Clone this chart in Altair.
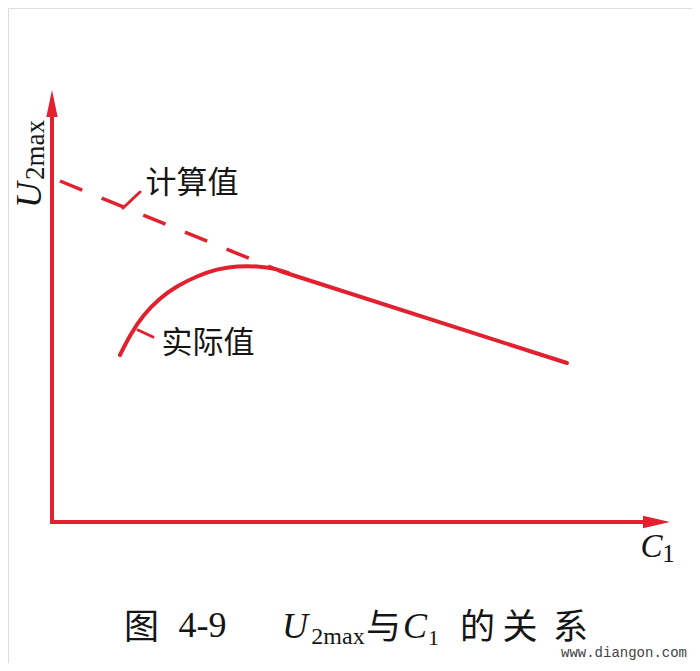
import altair as alt
import pandas as pd

RED = "#e2202e"
INK = "#151515"

# ---- data (chart units: x ~ C1, y ~ U2max, origin at axis corner) ----
# calculated value, dashed part
calc_x = [8, 228]
calc_y = [341, 251]
# calculated == actual, solid straight part
common_x = [228, 515]
common_y = [251, 159]
# actual value curve
actual_x = [68, 78, 91, 108, 125, 145, 165, 185, 205, 225, 236]
actual_y = [167, 187, 207, 224, 236, 246, 253, 256, 256, 253, 249]

# axes (origin, arrow bases)
axis_x = [0, 0, 591]
axis_y = [405, 0, 0]

W, H = 684, 655
xs = alt.Scale(domain=[-44, 640], nice=False, zero=False)
ys = alt.Scale(domain=[-141, 514], nice=False, zero=False)


def X(f="x"):
    return alt.X(f"{f}:Q", scale=xs, axis=None)


def Y(f="y"):
    return alt.Y(f"{f}:Q", scale=ys, axis=None)


layers = []

# axes
axes_df = pd.DataFrame({"x": axis_x, "y": axis_y, "o": [0, 1, 2]})
layers.append(
    alt.Chart(axes_df).mark_line(color=RED, strokeWidth=4, strokeJoin="miter", strokeCap="butt")
    .encode(x=X(), y=Y(), order="o:Q")
)
# arrow heads
layers.append(
    alt.Chart(pd.DataFrame({"x": [0], "y": [418.5]}))
    .mark_point(shape="M0,-1L0.42,1L-0.42,1Z", filled=True, opacity=1, size=729, color=RED, strokeWidth=0)
    .encode(x=X(), y=Y())
)
layers.append(
    alt.Chart(pd.DataFrame({"x": [604.5], "y": [0]}))
    .mark_point(shape="M1,0L-1,-0.47L-1,0.47Z", filled=True, opacity=1, size=729, color=RED, strokeWidth=0)
    .encode(x=X(), y=Y())
)

# dashed calculated line
layers.append(
    alt.Chart(pd.DataFrame({"x": calc_x, "y": calc_y}))
    .mark_line(color=RED, strokeWidth=3.5, strokeDash=[24, 21], strokeCap="butt")
    .encode(x=X(), y=Y())
)
# solid common line
layers.append(
    alt.Chart(pd.DataFrame({"x": common_x, "y": common_y}))
    .mark_line(color=RED, strokeWidth=4, strokeCap="round")
    .encode(x=X(), y=Y())
)
# actual curve
layers.append(
    alt.Chart(pd.DataFrame({"x": actual_x, "y": actual_y}))
    .mark_line(color=RED, strokeWidth=4, strokeCap="round", strokeJoin="round", interpolate="basis")
    .encode(x=X(), y=Y())
)

# leader lines
leaders = pd.DataFrame({"x": [71, 86], "y": [314, 192], "x2": [88, 101], "y2": [330, 185]})
layers.append(
    alt.Chart(leaders).mark_rule(color=RED, strokeWidth=3, strokeCap="round")
    .encode(x=X(), y=Y(), x2="x2:Q", y2="y2:Q")
)

CJK = "Noto Sans CJK SC"
SERIF = "Liberation Serif"


def label(text, x, y, size, font=CJK, style="normal", baseline="middle", align="center", angle=0, color=INK):
    kw = dict(fontSize=size, font=font, fontStyle=style, baseline=baseline, align=align, color=color)
    if angle:
        kw["angle"] = angle
    return (
        alt.Chart(pd.DataFrame({"x": [x], "y": [y], "t": [text]}))
        .mark_text(**kw)
        .encode(x=X(), y=Y(), text="t:N")
    )


# curve labels
layers.append(label("计算值", 140, 338, 31))
layers.append(label("实际值", 156, 178, 31))

# axis titles
layers.append(label("U", -11, 327, 36, font=SERIF, style="italic", baseline="alphabetic", angle=270))
layers.append(label("2max", -8, 372, 27, font=SERIF, baseline="alphabetic", angle=270))
layers.append(label("C", 599.5, -35, 33, font=SERIF, style="italic", baseline="alphabetic"))
layers.append(label("1", 616.5, -40, 25, font=SERIF, baseline="alphabetic"))

# caption  (positions given as picture px -> chart: x-52, 522-y)
cap_mid = 522 - 628
layers.append(label("图", 141.5 - 52, cap_mid, 35))
layers.append(label("4-9", 202.5 - 52, 522 - 637, 36, font=SERIF, baseline="alphabetic"))
layers.append(label("U", 295 - 52, 522 - 638, 36, font=SERIF, style="italic", baseline="alphabetic"))
layers.append(label("2max", 338 - 52, 522 - 644, 24, font=SERIF, baseline="alphabetic"))
layers.append(label("与", 383.5 - 52, cap_mid, 35))
layers.append(label("C", 415 - 52, 522 - 638, 36, font=SERIF, style="italic", baseline="alphabetic"))
layers.append(label("1", 433.5 - 52, 522 - 645, 22, font=SERIF, baseline="alphabetic"))
layers.append(label("的", 477.5 - 52, cap_mid, 35))
layers.append(label("关", 520 - 52, cap_mid, 35))
layers.append(label("系", 570.5 - 52, cap_mid, 35))

# watermark
layers.append(label("www.diangon.com", 624 - 52, 522 - 653, 14, font="Liberation Mono", color="#444444"))

chart = (
    alt.layer(*layers)
    .properties(width=W, height=H, padding=0, autosize=alt.AutoSizeParams(type="none"))
    .configure_view(strokeWidth=0, strokeOpacity=0)
    .configure(background="white")
)

chart.save("out.html", embed_options={"renderer": "svg", "actions": False})
